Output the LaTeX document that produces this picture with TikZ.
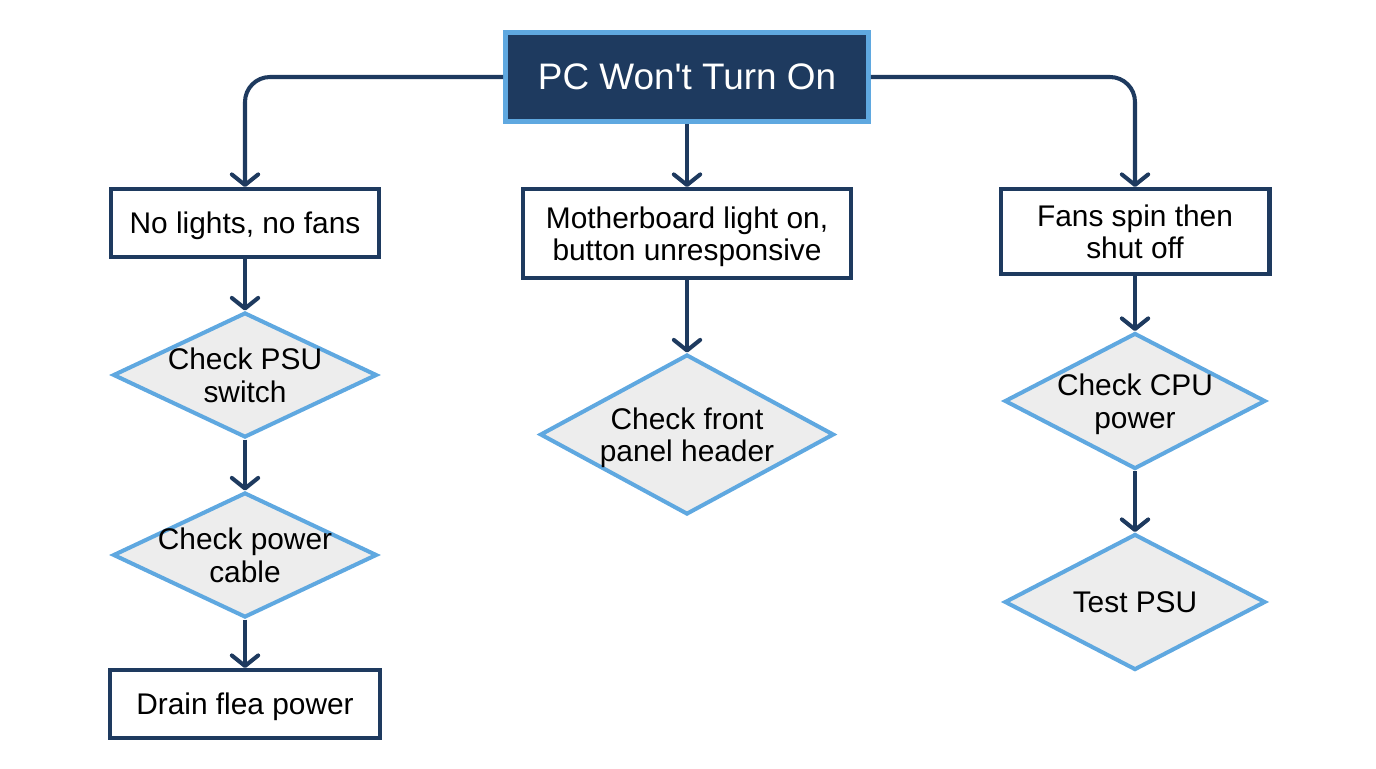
\documentclass[tikz,border=0pt]{standalone}
\usepackage{fontspec}
\setmainfont{Liberation Sans}[Ligatures=TeXOff]
\usetikzlibrary{shapes.geometric,arrows.meta}
\definecolor{navy}{HTML}{1E3A5F}
\definecolor{skyline}{HTML}{5FA8E0}
\definecolor{paleg}{HTML}{EDEDED}

\begin{document}
\begin{tikzpicture}[x=0.02cm,y=-0.02cm,
  title/.style={draw=skyline,line width=2.8pt,fill=navy,text=white,
    minimum width=7.26cm,minimum height=1.78cm,font=\fontsize{21}{24}\selectfont},
  symptom/.style={draw=navy,line width=2.3pt,fill=white,align=center,text depth=0pt,
    inner sep=0pt,font=\fontsize{17}{18.5}\selectfont},
  check/.style={diamond,aspect=2,draw=skyline,line width=2.3pt,fill=paleg,align=center,text depth=0pt,
    inner xsep=-0.8cm,inner ysep=-0.3cm,font=\fontsize{17}{18.5}\selectfont},
  arr/.style={navy,line width=2.3pt,-{Straight Barb[length=6pt,width=15pt,round]}}
]
  \useasboundingbox (0,0) rectangle (1376,768);

  \node[title] (root) at (687,77) {PC Won't Turn On};

  \node[symptom,minimum width=5.38cm,minimum height=1.36cm] (nolight) at (245,223) {No lights, no fans};
  \node[symptom,minimum width=6.56cm,minimum height=1.78cm] (mobo) at (687,233.5) {Motherboard light on,\\button unresponsive};
  \node[symptom,minimum width=5.38cm,minimum height=1.7cm] (fans) at (1135,231.5) {Fans spin then\\shut off};

  \node[check,minimum width=5.28cm,minimum height=2.5cm] (psusw) at (245,375) {Check PSU\\switch};
  \node[check,minimum width=5.28cm,minimum height=2.5cm] (cable) at (245,555) {Check power\\cable};
  \node[symptom,minimum width=5.42cm,minimum height=1.36cm] (flea) at (245,704) {Drain flea power};

  \node[check,minimum width=5.88cm,minimum height=3.2cm] (panel) at (687,434.5) {Check front\\panel header};

  \node[check,minimum width=5.22cm,minimum height=2.72cm] (cpu) at (1135,401) {Check CPU\\power};
  \node[check,minimum width=5.22cm,minimum height=2.72cm] (psu) at (1135,602) {Test PSU};

  \draw[arr,rounded corners=0.5cm] (root.west) -| (nolight.north);
  \draw[arr,rounded corners=0.5cm] (root.east) -| (fans.north);
  \draw[arr] (root.south) -- (mobo.north);

  \draw[arr] (nolight) -- (psusw);
  \draw[arr] (psusw) -- (cable);
  \draw[arr] (cable) -- (flea);
  \draw[arr] (mobo) -- (panel);
  \draw[arr] (fans) -- (cpu);
  \draw[arr] (cpu) -- (psu);
\end{tikzpicture}
\end{document}
